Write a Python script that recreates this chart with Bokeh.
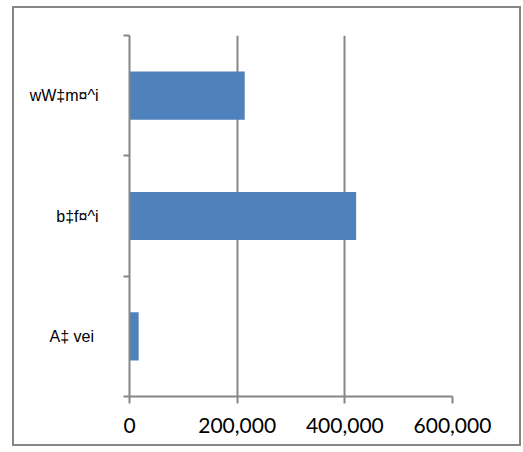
from bokeh.plotting import figure
from bokeh.models import Range1d, FixedTicker, NumeralTickFormatter
from bokeh.embed import file_html
from bokeh.resources import INLINE

categories = ["A‡  vei", "b‡f¤^i", "wW‡m¤^i"]
values = [17000, 421000, 214000]
x_ticks = [0, 200000, 400000, 600000]

GRAY = "#868686"
positions = [i + 0.5 for i in range(len(categories))]
boundaries = list(range(len(categories) + 1))

p = figure(width=505, height=436, output_backend="svg", toolbar_location=None,
           x_range=Range1d(0, 600000), y_range=Range1d(0, len(categories)),
           min_border_left=115, min_border_right=67, min_border_top=27, min_border_bottom=48,
           margin=(8, 0, 0, 14),
           styles={"outline": f"2px solid {GRAY}", "outline-offset": "0px"})
p.outline_line_color = None
p.background_fill_color = "white"
p.border_fill_color = "white"

p.hbar(y=positions, left=0, right=values, height=0.4, fill_color="#4F81BD", line_color=None)

p.ygrid.grid_line_color = None
p.xgrid.ticker = FixedTicker(ticks=x_ticks)
p.xgrid.grid_line_color = GRAY
p.xgrid.grid_line_width = 2

xa = p.xaxis[0]
xa.ticker = FixedTicker(ticks=x_ticks)
xa.formatter = NumeralTickFormatter(format="0,0")
xa.axis_line_color = GRAY
xa.axis_line_width = 2
xa.major_tick_in = 0
xa.major_tick_out = 7
xa.major_tick_line_color = GRAY
xa.major_tick_line_width = 2
xa.minor_tick_line_color = None
xa.major_label_text_font = "Lato"
xa.major_label_text_font_size = "21px"
xa.major_label_text_color = "black"
xa.major_label_standoff = 14

ya = p.yaxis[0]
ya.ticker = FixedTicker(ticks=positions, minor_ticks=boundaries)
ya.major_label_overrides = {pos: cat for pos, cat in zip(positions, categories)}
ya.axis_line_color = GRAY
ya.axis_line_width = 2
ya.major_tick_in = 0
ya.major_tick_out = 0
ya.minor_tick_in = 0
ya.minor_tick_out = 6
ya.minor_tick_line_color = GRAY
ya.minor_tick_line_width = 2
ya.major_label_text_font = "Liberation Sans"
ya.major_label_text_font_size = "16px"
ya.major_label_text_color = "black"
ya.major_label_standoff = 25

open("out.html", "w").write(file_html(p, INLINE))
